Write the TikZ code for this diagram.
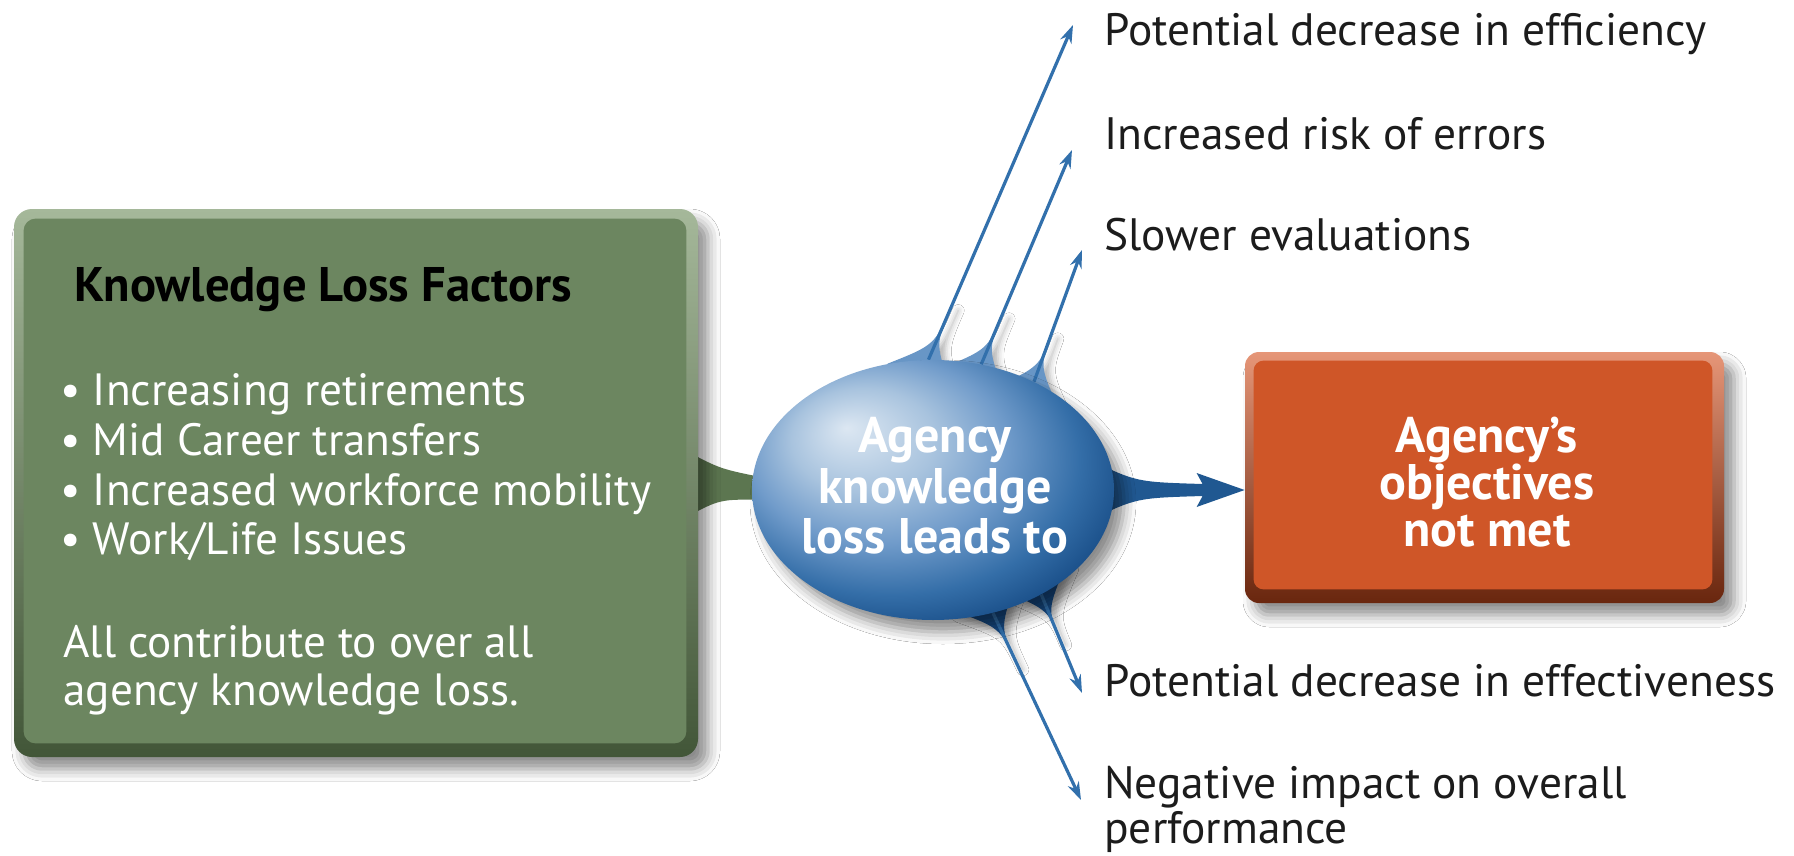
\documentclass[tikz,border=0pt]{standalone}
\usepackage{fontspec}
\setmainfont{PT Sans}
\usetikzlibrary{calc,shapes.geometric,arrows.meta,shadows.blur,backgrounds}

\definecolor{kgreen}{RGB}{108,134,96}
\definecolor{kgreenhi}{RGB}{165,184,154}
\definecolor{kgreenlo}{RGB}{66,86,56}
\definecolor{stemgreen}{RGB}{92,118,80}
\definecolor{orng}{RGB}{207,86,40}
\definecolor{orngHi}{RGB}{230,150,120}
\definecolor{orngLo}{RGB}{105,38,14}
\definecolor{blobA}{RGB}{220,231,242}
\definecolor{blobB}{RGB}{168,195,222}
\definecolor{blobC}{RGB}{112,155,202}
\definecolor{blobD}{RGB}{52,110,168}
\definecolor{blobE}{RGB}{20,72,130}
\definecolor{blobF}{RGB}{5,38,80}
\definecolor{arrblue}{RGB}{50,112,172}
\definecolor{spikeup}{RGB}{104,150,198}
\definecolor{spikedn}{RGB}{22,74,132}
\definecolor{hblue}{RGB}{32,88,145}
\definecolor{labelgray}{RGB}{28,28,28}

\pgfdeclareradialshading{blobshade}{\pgfpoint{-12bp}{12bp}}{%
  color(0bp)=(blobA); color(10bp)=(blobB); color(18bp)=(blobC);
  color(26bp)=(blobD); color(33bp)=(blobE); color(40bp)=(blobF); color(50bp)=(blobF)}

\tikzset{
  softshadow/.style={blur shadow={shadow xshift=5pt, shadow yshift=-6pt,
      shadow blur radius=6pt, shadow opacity=45}},
  kboxstyle/.style={rectangle, rounded corners=9pt, minimum width=342pt,
      minimum height=274pt, top color=kgreenhi, bottom color=kgreenlo, softshadow},
  oboxstyle/.style={rectangle, rounded corners=7pt, minimum width=239.5pt,
      minimum height=125.5pt, top color=orngHi, bottom color=orngLo, softshadow},
  blobstyle/.style={ellipse, minimum width=181pt, minimum height=130pt,
      inner sep=0pt, shading=blobshade, softshadow},
  arr/.style={draw=arrblue, line width=1.6pt, -{Stealth[length=9pt,width=6pt]}},
  headtxt/.style={anchor=base west, inner sep=0pt, text=black,
      font=\fontsize{24.3}{28}\selectfont\bfseries},
  boxtxt/.style={anchor=base west, inner sep=0pt, text=white,
      font=\fontsize{22.6}{26}\selectfont},
  centretxt/.style={inner sep=0pt, text=white, align=center},
  lbl/.style={anchor=west, inner sep=0pt, text=labelgray, align=left,
      font=\fontsize{22.7}{22.5}\selectfont},
}

% tapered bump where an arrow leaves the ellipse
\newcommand\blobspike[4]{%
  \coordinate (spk) at ($(blob.#1)!-10pt!(#2)$);
  \fill[#3, blur shadow={shadow xshift=3pt, shadow yshift=-3pt,
      shadow blur radius=3pt, shadow opacity=30}]
    ($(spk)!18pt!90:(#2)$) .. controls ($(spk)!18pt!(#2)$) ..
    ($(spk)!#4!(#2)$) .. controls ($(spk)!18pt!(#2)$) ..
    ($(spk)!18pt!-90:(#2)$) -- cycle;}

\begin{document}
\begin{tikzpicture}[x=0.5pt, y=-0.5pt]
\useasboundingbox (0,0) rectangle (1794,856);

% boxes and the central ellipse
\node[kboxstyle] (kbox) at (356,483) {};
\fill[kgreen, rounded corners=6pt] ($(kbox.south west)+(10,-14)$) rectangle ($(kbox.north east)+(-12,10)$);

\node[oboxstyle] (obox) at (1484.5,477.5) {};
\fill[orng, rounded corners=5pt] ($(obox.south west)+(9,-14)$) rectangle ($(obox.north east)+(-12,9)$);

\node[blobstyle] (blob) at (933,490) {};

% arrow end points
\coordinate (t1) at (1073,25);
\coordinate (t2) at (1072,150);
\coordinate (t3) at (1082,250);
\coordinate (t4) at (1082,693);
\coordinate (t5) at (1081,800);

\begin{pgfonlayer}{background}
  \fill[white] (0,0) rectangle (1794,856);
  % green stem into the ellipse
  \fill[stemgreen] ($(kbox.east)+(-12,-32)$) .. controls ($(kbox.east)+(22,-14)$) ..
    ($(blob.west)+(14,-12)$) -- ($(blob.west)+(14,10)$) .. controls ($(kbox.east)+(22,16)$) ..
    ($(kbox.east)+(-12,34)$) -- cycle;
  % thick arrow to the result box
  \fill[hblue] ($(blob.east)+(-24,-30)$) .. controls ($(blob.east)+(22,-8)$) ..
    ($(obox.west |- blob.east)+(-42,-6)$) -- ($(obox.west |- blob.east)+(-48,-17)$) --
    (obox.west |- blob.east) -- ($(obox.west |- blob.east)+(-48,17)$) --
    ($(obox.west |- blob.east)+(-42,6)$) .. controls ($(blob.east)+(22,8)$) ..
    ($(blob.east)+(-24,30)$) -- cycle;
  % bumps and thin arrows
  \blobspike{92}{t1}{spikeup}{40pt}
  \blobspike{69}{t2}{spikeup}{38pt}
  \blobspike{47}{t3}{spikeup}{36pt}
  \blobspike{316}{t4}{spikedn}{34pt}
  \blobspike{296}{t5}{spikedn}{38pt}
  \draw[arr] (blob.92) -- (t1);
  \draw[arr] (blob.69) -- (t2);
  \draw[arr] (blob.47) -- (t3);
  \draw[arr] (blob.316) -- (t4);
  \draw[arr] (blob.296) -- (t5);
\end{pgfonlayer}

% text of the factors box
\node[headtxt] (kh) at (74,301) {Knowledge Loss Factors};
\node[boxtxt] (b1) at (60,405) {• Increasing retirements};
\node[boxtxt] (b2) at (60,455) {• Mid Career transfers};
\node[boxtxt] (b3) at (60,505) {• Increased workforce mobility};
\node[boxtxt] (b4) at (60,554) {• Work/Life Issues};
\node[boxtxt] (p1) at (63,657) {All contribute to over all};
\node[boxtxt] (p2) at (63,705) {agency knowledge loss.};

\node[centretxt, font=\fontsize{25}{25.3}\selectfont\bfseries] (bt) at (935,486)
  {Agency\\knowledge\\loss leads to};
\node[centretxt, font=\fontsize{25}{23.5}\selectfont\bfseries] (ot) at (1487,482)
  {Agency’s\\objectives\\not met};

% consequences
\node[lbl] (l1) at (1104,34) {Potential decrease in efficiency};
\node[lbl] (l2) at (1104,134) {Increased risk of errors};
\node[lbl] (l3) at (1104,235) {Slower evaluations};
\node[lbl] (l4) at (1104,681) {Potential decrease in effectiveness};
\node[lbl] (l5) at (1104,809) {Negative impact on overall\\performance};
\end{tikzpicture}
\end{document}
